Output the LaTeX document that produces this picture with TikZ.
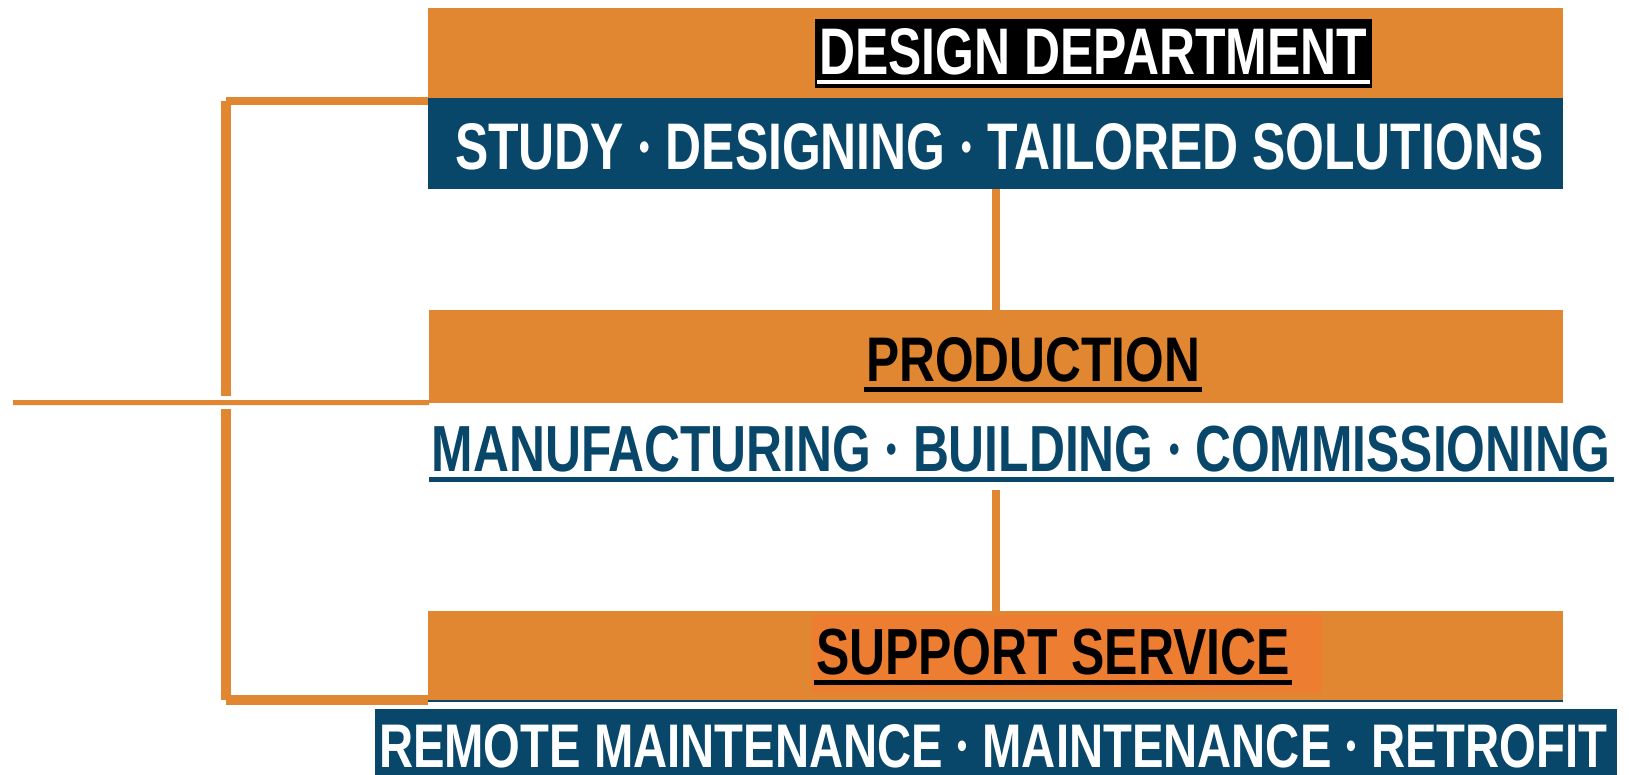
\documentclass[tikz,border=0pt]{standalone}
\usepackage{fontspec}
\setmainfont{Liberation Sans}
\usepackage{graphicx}
\definecolor{dorange}{RGB}{225,135,49}
\definecolor{iorange}{RGB}{237,125,49}
\definecolor{dblue}{RGB}{8,71,106}
\newcommand{\sdot}{\makebox[0.28em]{\raisebox{0.144em}{\scalebox{0.6}{•}}}}
\tikzset{
  panel/.style={draw=none, anchor=north west, inner sep=0pt, outer sep=0pt},
  lbl/.style={anchor=base west, inner sep=0pt, outer sep=0pt},
  link/.style={draw=dorange, line width=8pt},
  spine/.style={draw=dorange, line width=10pt},
}
\begin{document}
\begin{tikzpicture}[x=1pt,y=-1pt]
\useasboundingbox[fill=white] (0,0) rectangle (1629,775);

% ---- Design department
\node[panel, fill=dorange, minimum width=1135pt, minimum height=90pt] (dhead) at (428,8.3) {};
\node[panel, fill=dblue, minimum width=1135pt, minimum height=91pt] (dbody) at (428,98) {};
\node[panel, fill=black, minimum width=557pt, minimum height=68.7pt] (dtag) at (815,19) {};
\fill[white] (817,80) rectangle (1370,84);
\node[lbl, text=white] (tdesign) at (819,75) {\resizebox{548pt}{46pt}{\bfseries DESIGN DEPARTMENT}};
\node[lbl, text=white] (tstudy) at (455,170) {\resizebox{1088pt}{46pt}{\bfseries STUDY \sdot{} DESIGNING \sdot{} TAILORED SOLUTIONS}};

% ---- Production
\node[panel, fill=dorange, minimum width=1134pt, minimum height=92.7pt] (prod) at (429,310) {};
\fill[black] (864,387) rectangle (1202,391.7);
\node[lbl, text=black] (tprod) at (866,381) {\resizebox{334pt}{44pt}{\bfseries PRODUCTION}};
\fill[dblue] (429,477.3) rectangle (1614,481.7);
\node[lbl, text=dblue] (tmanu) at (431.7,471.5) {\resizebox{1178pt}{45.5pt}{\bfseries MANUFACTURING \sdot{} BUILDING \sdot{} COMMISSIONING}};

% ---- Support service
\node[panel, fill=dorange, minimum width=1135pt, minimum height=89pt] (supp) at (428,611) {};
\draw[dblue, line width=1.5pt] ([yshift=-1.2pt]supp.south west) -- ([yshift=-1.2pt]supp.south east);
\node[panel, fill=iorange, minimum width=509.7pt, minimum height=78pt] (stag) at (812,615) {};
\fill[black] (814,680) rectangle (1292,684.5);
\node[lbl, text=black] (tsupp) at (816,674) {\resizebox{474pt}{45.5pt}{\bfseries SUPPORT SERVICE}};
\node[panel, fill=dblue, minimum width=1242pt, minimum height=66.3pt] (rbody) at (375,708.7) {};
\node[lbl, text=white] (tremote) at (379,767) {\resizebox{1228pt}{43pt}{\bfseries REMOTE MAINTENANCE \sdot{} MAINTENANCE \sdot{} RETROFIT}};

% ---- vertical links
\coordinate (dtop) at (996,189);
\draw[link] (dtop) -- (prod.north -| dtop);
\coordinate (mtop) at (996,490);
\draw[link] (mtop) -- (supp.north -| mtop);

% ---- left bracket
\coordinate (stop) at (226.3,101);
\coordinate (sgap1) at (226.3,396);
\coordinate (sgap2) at (226.3,409);
\coordinate (sbot) at (226.3,700);
\coordinate (sbotr) at (226.3,699.5);
\coordinate (hub) at (13,402.7);
\draw[spine] (stop) -- (sgap1);
\draw[spine] (sgap2) -- (sbot);
\draw[link] (stop) -- (dbody.west |- stop);
\draw[draw=dorange, line width=5pt] (hub) -- (prod.south west);
\draw[spine] (sbotr) -- (supp.west |- sbotr);
\end{tikzpicture}
\end{document}
